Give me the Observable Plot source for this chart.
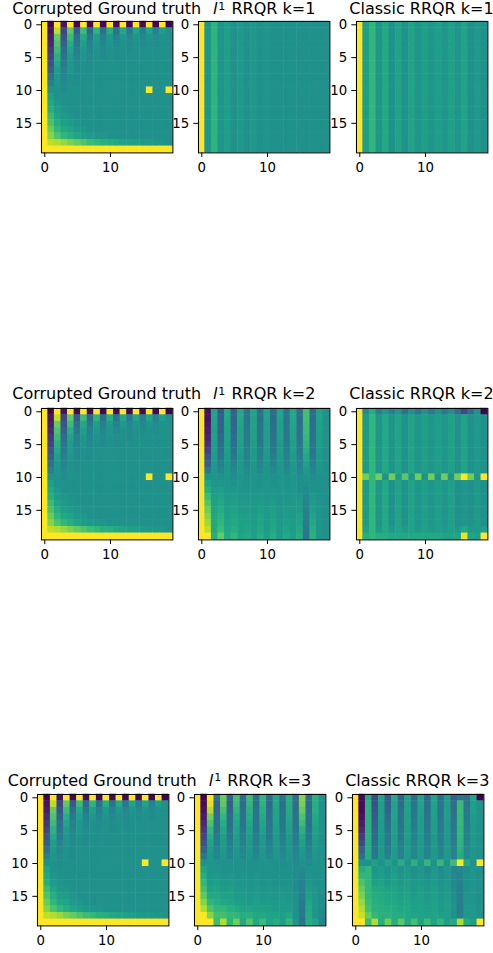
<!DOCTYPE html>
<html><head><meta charset="utf-8">
<script src="https://cdn.jsdelivr.net/npm/d3@7"></script>
<script src="https://cdn.jsdelivr.net/npm/@observablehq/plot@0.6"></script>
<style>
html,body{margin:0;padding:0;background:#fff;}
#root{position:relative;width:493px;height:953px;overflow:hidden;font-family:"DejaVu Sans",sans-serif;}
#root svg{position:absolute;overflow:visible;}
.t{position:absolute;font-size:16px;line-height:18px;white-space:nowrap;transform:translateX(-50%);color:#000;}
.t sup{font-size:11px;line-height:0;vertical-align:baseline;position:relative;top:-4.5px;margin:0 1px 0 1px;}
</style></head><body><div id="root"></div>
<script>
const groundTruthRows = [
[100,0,100,5,100,2,100,3,100,2,100,3,100,2,100,3,100,2,100,0],
[100,5,90,20,75,28,68,33,65,36,62,38,60,40,59,42,58,44,56,50],
[100,8,76,25,68,35,60,40,56,43,54,44,53,46,52,47,52,48,51,50],
[100,12,72,30,62,40,56,44,53,46,52,47,51,48,51,49,51,49,50,50],
[100,16,68,35,58,43,53,46,51,48,51,49,50,49,50,50,50,50,50,50],
[100,20,64,38,55,45,52,48,51,49,50,49,50,50,50,50,50,50,50,50],
[100,25,60,41,53,47,51,49,50,50,50,50,50,50,50,50,50,50,50,50],
[100,30,56,44,52,48,50,49,50,50,50,50,50,50,50,50,50,50,50,50],
[100,37,54,46,51,49,50,50,50,50,50,50,50,50,50,50,50,50,50,50],
[100,43,52,48,50,49,50,50,50,50,50,50,50,50,50,50,50,50,50,50],
[100,50,51,49,50,50,50,50,50,50,50,50,50,50,50,50,100,50,50,100],
[100,57,51,50,50,50,50,50,50,50,50,50,50,50,50,50,50,50,50,50],
[100,60,53,51,50,50,50,50,50,50,50,50,50,50,50,50,50,50,50,50],
[100,63,55,52,51,50,50,50,50,50,50,50,50,50,50,50,50,50,50,50],
[100,68,58,54,52,51,50,50,50,50,50,50,50,50,50,50,50,50,50,50],
[100,72,62,56,55,52,51,50,50,50,50,50,50,50,50,50,50,50,50,50],
[100,77,66,60,58,54,53,51,50,50,50,50,50,50,50,50,50,50,50,50],
[100,82,72,66,63,59,56,54,53,52,51,51,51,50,50,50,50,50,50,50],
[100,90,88,84,80,76,72,68,66,63,62,60,58,57,56,55,54,53,52,51],
[100,100,100,100,100,100,100,100,100,100,100,100,100,100,100,100,100,100,100,100]
];
const l1K1Row = [100,52,65,52,56,50,54,50,53,50,52,50,51,50,51,50,51,50,50,50];
const classicK1Row = [100,56,66,52,60,51,58,50,58,52,56,52,56,52,57,52,58,50,54,50];
const l1K2Cols = [
[100,100,100,100,100,100,100,100,100,100,100,100,100,100,100,100,100,100,100,100],
[4,4,6,8,10,14,18,25,30,40,50,58,62,68,73,78,82,86,90,100],
[58,58,58,57,57,56,56,55,54,53,52,52,54,56,57,58,59,60,60,62],
[28,29,30,31,33,35,37,39,42,46,50,53,56,58,60,62,64,66,68,76],
[60,60,59,58,58,57,56,55,54,53,52,52,53,54,55,56,57,58,59,60],
[30,31,32,33,35,36,38,40,43,46,49,51,53,55,56,58,59,60,62,66],
[60,60,59,58,58,57,56,55,54,53,52,52,52,53,54,55,56,57,57,58],
[38,38,39,40,41,42,43,44,46,48,50,51,52,53,54,55,56,57,58,60],
[58,58,58,57,57,56,55,54,53,52,52,52,52,53,54,54,55,55,56,56],
[36,36,37,38,39,40,42,43,45,47,50,51,52,54,55,56,58,59,60,62],
[58,58,57,57,56,56,55,54,53,52,52,52,52,52,53,54,54,55,55,56],
[34,34,35,36,37,39,40,42,44,47,50,51,52,53,55,56,57,59,60,62],
[58,58,57,57,56,55,55,54,53,52,52,52,52,52,52,53,53,54,54,55],
[38,38,38,39,40,41,42,44,45,47,50,51,52,52,53,54,55,56,58,60],
[60,60,59,58,58,57,56,55,54,53,52,52,52,53,53,54,54,55,55,56],
[36,36,36,37,38,40,41,42,44,46,49,50,51,52,54,55,57,58,60,62],
[70,70,69,68,67,65,63,60,57,54,52,50,48,46,44,43,42,41,40,38],
[34,34,35,36,37,38,39,41,43,45,48,50,51,53,55,56,58,60,62,64],
[58,58,57,57,56,56,55,54,53,52,51,51,51,51,52,52,52,52,52,52],
[50,50,50,50,50,50,50,50,50,50,50,50,50,50,50,50,50,50,50,50]
];
const classicK2Top = [100,48,62,42,52,42,52,38,50,40,50,40,50,40,50,36,22,36,50,0];
const classicK2Upper = [100,54,66,52,60,52,58,50,58,52,56,52,56,52,57,50,58,50,54,50];
const classicK2Outlier = [100,78,66,78,50,78,54,74,52,78,50,78,50,78,50,78,100,78,52,100];
const classicK2Lower = [100,54,66,52,60,50,58,50,58,52,56,52,56,52,57,50,52,50,54,50];
const classicK2Row18 = [100,56,66,54,60,54,58,54,58,54,56,54,56,54,57,54,60,54,54,56];
const classicK2Row19 = [100,62,66,62,62,60,60,60,60,60,60,60,60,58,58,58,97,58,56,100];
const l1K3Cols = [
[100,100,100,100,100,100,100,100,100,100,100,100,100,100,100,100,100,100,100,100],
[0,3,5,8,12,16,20,25,32,40,50,58,62,66,70,75,82,88,100,100],
[100,95,88,78,72,66,62,58,55,53,52,52,53,55,57,60,65,72,82,100],
[38,30,32,34,36,38,40,42,44,46,50,52,54,56,58,60,63,66,70,68],
[76,75,70,66,63,60,57,55,53,52,51,51,52,53,55,57,60,66,70,88],
[30,30,32,34,36,38,40,42,44,46,50,51,52,54,56,57,59,62,66,65],
[70,68,65,62,60,58,56,54,53,52,51,51,51,52,53,54,56,61,66,78],
[34,34,36,37,38,40,42,43,45,47,50,51,52,53,54,55,56,58,62,60],
[68,66,64,62,60,58,56,54,53,52,51,51,51,52,52,53,55,58,63,72],
[36,36,37,38,39,40,42,43,45,47,50,51,52,53,54,55,56,57,60,60],
[66,65,63,61,59,57,55,54,53,52,51,51,51,51,52,53,54,57,60,68],
[34,34,35,36,38,39,41,43,45,47,50,50,51,52,53,54,55,56,58,58],
[60,60,59,58,57,56,55,54,53,52,51,51,51,51,52,52,53,55,58,62],
[36,36,37,38,39,40,42,43,45,47,49,50,50,51,52,53,54,55,56,56],
[62,62,61,60,58,57,55,54,53,52,51,51,51,51,52,52,53,55,60,66],
[35,35,36,37,38,39,41,42,44,46,48,49,49,49,49,50,50,50,51,52],
[82,80,76,72,68,64,60,57,54,52,50,48,46,44,43,42,41,40,40,38],
[34,34,35,36,37,38,40,42,44,46,48,50,52,53,55,56,58,60,61,62],
[64,63,62,60,59,57,56,54,53,52,51,51,51,51,52,52,52,52,52,58],
[50,50,50,50,50,50,50,50,50,50,50,50,50,50,50,49,49,48,47,45]
];
const classicK3Cols = [
[100,100,100,100,100,100,100,100,100,100,100,100,100,100,100,100,100,100,100,100],
[2,3,3,5,8,12,16,22,30,36,50,62,66,72,76,80,84,88,92,100],
[60,64,64,64,64,64,64,63,63,62,50,66,66,66,66,66,68,70,76,68],
[22,24,26,28,30,32,34,36,38,40,56,52,54,57,60,62,63,64,66,88],
[58,56,56,56,55,55,55,54,54,54,50,55,56,58,60,61,62,63,64,62],
[26,30,32,34,36,38,40,41,42,44,58,50,52,54,57,59,60,62,64,78],
[60,58,58,58,57,57,56,56,55,55,50,55,56,57,58,59,60,61,62,62],
[30,34,36,37,38,39,40,42,43,44,62,50,52,54,56,57,58,60,61,74],
[58,58,58,57,57,56,56,55,55,55,50,54,55,56,57,58,59,60,60,60],
[34,38,39,40,41,42,43,44,45,46,64,49,51,53,54,55,56,57,58,70],
[58,58,57,57,56,56,55,55,54,54,50,53,54,55,56,57,57,58,58,58],
[32,36,37,38,39,40,42,43,44,45,66,48,50,52,53,54,55,56,57,68],
[58,58,57,57,56,56,55,55,54,54,50,53,54,55,56,56,57,57,58,58],
[34,38,38,39,40,41,42,43,44,45,66,47,49,51,52,53,54,55,56,66],
[56,56,56,56,55,55,55,54,54,54,50,53,53,54,55,55,56,56,57,56],
[30,36,37,38,39,40,41,42,43,44,68,46,47,48,49,49,50,50,51,60],
[38,68,68,67,67,66,66,65,64,62,100,46,45,44,43,42,42,42,43,88],
[34,38,40,41,42,43,44,45,46,47,60,49,50,51,51,52,52,53,54,60],
[58,56,56,55,55,54,54,54,53,53,50,52,52,52,52,52,52,53,54,56],
[0,50,50,50,50,50,50,50,50,50,100,50,50,50,50,50,50,50,50,100]
];
const xTicks = [0,10];
const yTicks = [0,5,10,15];
const titles = ["Corrupted Ground truth","<i>l</i><sup>1</sup> RRQR k=","Classic RRQR k="];

const repeat = (row,n) => Array.from({length:n},()=>row);
const l1K1 = repeat(l1K1Row,20);
const classicK1 = repeat(classicK1Row,20);
const l1K2 = d3.transpose(l1K2Cols);
const classicK2 = [classicK2Top,...repeat(classicK2Upper,9),classicK2Outlier,...repeat(classicK2Lower,7),classicK2Row18,classicK2Row19];
const l1K3 = d3.transpose(l1K3Cols);
const classicK3 = d3.transpose(classicK3Cols);
const grid = [[groundTruthRows,l1K1,classicK1],[groundTruthRows,l1K2,classicK2],[groundTruthRows,l1K3,classicK3]];

// layout
const xs = [[41,198.4,355.8],[41,198.4,355.8],[36.5,194.2,351.6]];
const ys = [21.3,407.7,794.3];
const titleTop = [0.3,385.2,771.8];
const size = 131.4, mL = 32, mT = 4, mB = 26, mR = 4;
const root = document.getElementById("root");
const idx = d3.range(20);

grid.forEach((row,ri)=>row.forEach((m,ci)=>{
  const data = m.flatMap((r,y)=>r.map((v,x)=>({x,y,v})));
  const svg = Plot.plot({
    width:size+mL+mR, height:size+mT+mB,
    marginLeft:mL, marginTop:mT, marginBottom:mB, marginRight:mR,
    style:{background:"transparent",fontFamily:"DejaVu Sans",fontSize:"13.33px",color:"#000",overflow:"visible"},
    x:{type:"band",domain:idx,padding:0,round:false,axis:null},
    y:{type:"band",domain:idx,padding:0,round:false,axis:null},
    color:{type:"linear",scheme:"viridis",domain:[0,100]},
    marks:[
      Plot.cell(data,{x:"x",y:"y",fill:"v",inset:-0.25}),
      Plot.frame({stroke:"#000",strokeWidth:1}),
      Plot.axisX(xTicks,{anchor:"bottom",tickSize:4.67,tickPadding:4.67,fontSize:13.33,label:null,stroke:"#000",fill:"#000",strokeWidth:1}),
      Plot.axisY(yTicks,{anchor:"left",tickSize:4.67,tickPadding:4.67,fontSize:13.33,label:null,stroke:"#000",fill:"#000",strokeWidth:1})
    ]
  });
  svg.style.left=(xs[ri][ci]-mL)+"px";
  svg.style.top=(ys[ri]-mT)+"px";
  svg.style.maxWidth="none";
  root.appendChild(svg);
  const t=document.createElement("div");
  t.className="t";
  t.innerHTML=titles[ci]+(ci>0?(ri+1):"");
  t.style.left=(xs[ri][ci]+size/2)+"px";
  t.style.top=titleTop[ri]+"px";
  root.appendChild(t);
}));
</script></body></html>
